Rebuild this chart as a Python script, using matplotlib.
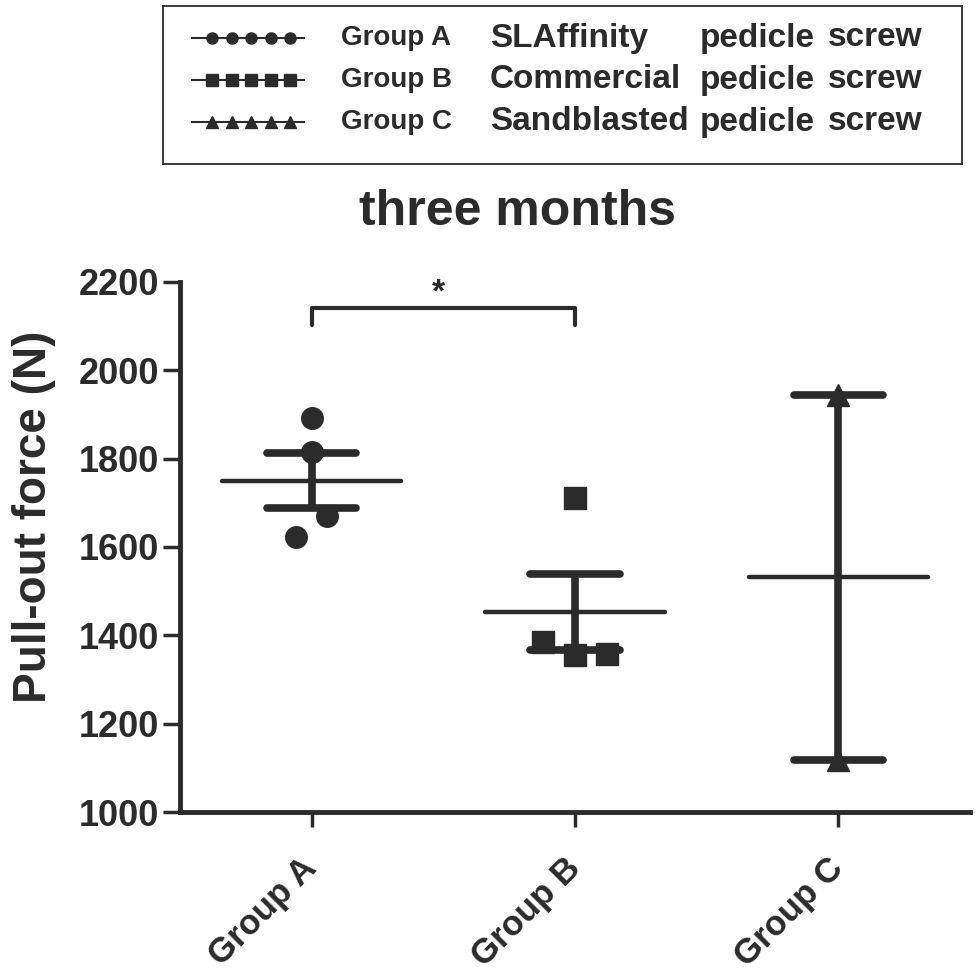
import numpy as np
import matplotlib
matplotlib.use('Agg')
import matplotlib.pyplot as plt

plt.rcParams['font.family'] = 'Liberation Sans'
plt.rcParams['font.weight'] = 'bold'

INK = '#2b2b2b'

groups = ['Group A', 'Group B', 'Group C']
group_a = [1891, 1815, 1623, 1670]
group_b = [1711, 1385, 1356, 1358]
group_c = [1945, 1118]
markers = ['o', 's', '^']
screw_types = ['SLAffinity', 'Commercial', 'Sandblasted']
yticks = [1000, 1200, 1400, 1600, 1800, 2000, 2200]


def swarm(vals, thr=55, step=0.12):
    # spread points that sit too close vertically, like a dot plot
    clusters = []
    for i, v in enumerate(vals):
        for cl in clusters:
            if any(abs(v - vals[j]) < thr for j in cl):
                cl.append(i)
                break
        else:
            clusters.append([i])
    off = np.zeros(len(vals))
    for cl in clusters:
        n = len(cl)
        for k, j in enumerate(cl):
            off[j] = (k - (n - 1) / 2) * step
    return off


fig = plt.figure(figsize=(9.77, 9.76), dpi=100)
ax = fig.add_axes([180 / 977, 1 - 812 / 976, 790 / 977, 530 / 976])

for i, (vals, m) in enumerate(zip([group_a, group_b, group_c], markers)):
    vals = np.array(vals, dtype=float)
    ax.plot(i + swarm(vals), vals, linestyle='none', marker=m, ms=15.5,
            color=INK, mec=INK, zorder=3)
    mean = vals.mean()
    sem = vals.std(ddof=1) / np.sqrt(len(vals))
    ax.hlines(mean, i - 0.34, i + 0.34, color=INK, lw=3.2, capstyle='round', zorder=2)
    ax.vlines(i, mean - sem, mean + sem, color=INK, lw=5.5, zorder=2)
    ax.hlines([mean - sem, mean + sem], i - 0.17, i + 0.17, color=INK, lw=5.5,
              capstyle='round', zorder=2)

# significance bracket A vs B
ax.plot([0, 0, 1, 1], [2102, 2141, 2141, 2102], color=INK, lw=3,
        solid_joinstyle='round', solid_capstyle='round', clip_on=False)
ax.text(0.48, 2176, '*', ha='center', va='center', fontsize=24, color=INK)

ax.set_xlim(-0.5, 2.5)
ax.set_ylim(1000, 2200)
ax.set_yticks(yticks)
ax.set_xticks(range(len(groups)))
ax.set_xticklabels(groups, rotation=45, ha='right', va='center',
                   rotation_mode='anchor')
for s in ['top', 'right']:
    ax.spines[s].set_visible(False)
for s in ['left', 'bottom']:
    ax.spines[s].set_linewidth(3.5)
    ax.spines[s].set_color(INK)
ax.tick_params(axis='y', width=2.5, length=12, labelsize=26, colors=INK, pad=3)
ax.tick_params(axis='x', width=2.5, length=11, labelsize=25, colors=INK, pad=26)

fig.text(34 / 977, 1 - 517 / 976, 'Pull-out force (N)', rotation=90,
         ha='center', va='center', fontsize=33, color=INK)
fig.text(517 / 977, 1 - 212 / 976, 'three months', ha='center', va='center',
         fontsize=36, color=INK)

# legend box drawn by hand, in figure pixel coordinates
lax = fig.add_axes([163 / 977, 1 - 164 / 976, 799 / 977, 158 / 976])
lax.set_xlim(163, 962)
lax.set_ylim(164, 6)
lax.set_xticks([])
lax.set_yticks([])
for s in lax.spines.values():
    s.set_linewidth(1.3)
    s.set_color(INK)

rows = [38, 80, 122]
for y, m, g, t in zip(rows, markers, groups, screw_types):
    lax.plot([192, 304], [y, y], color=INK, lw=1.5)
    lax.plot(np.linspace(212, 290, 5), [y] * 5, linestyle='none', marker=m,
             ms=8, color=INK)
    lax.text(341, y, g, va='center', fontsize=20, color=INK)
    lax.text(490, y, t, va='center', fontsize=24, color=INK)
    lax.text(700, y, 'pedicle', va='center', fontsize=24, color=INK)
    lax.text(828, y, 'screw', va='center', fontsize=24, color=INK)

fig.savefig('out.png', dpi=100, facecolor='white')
